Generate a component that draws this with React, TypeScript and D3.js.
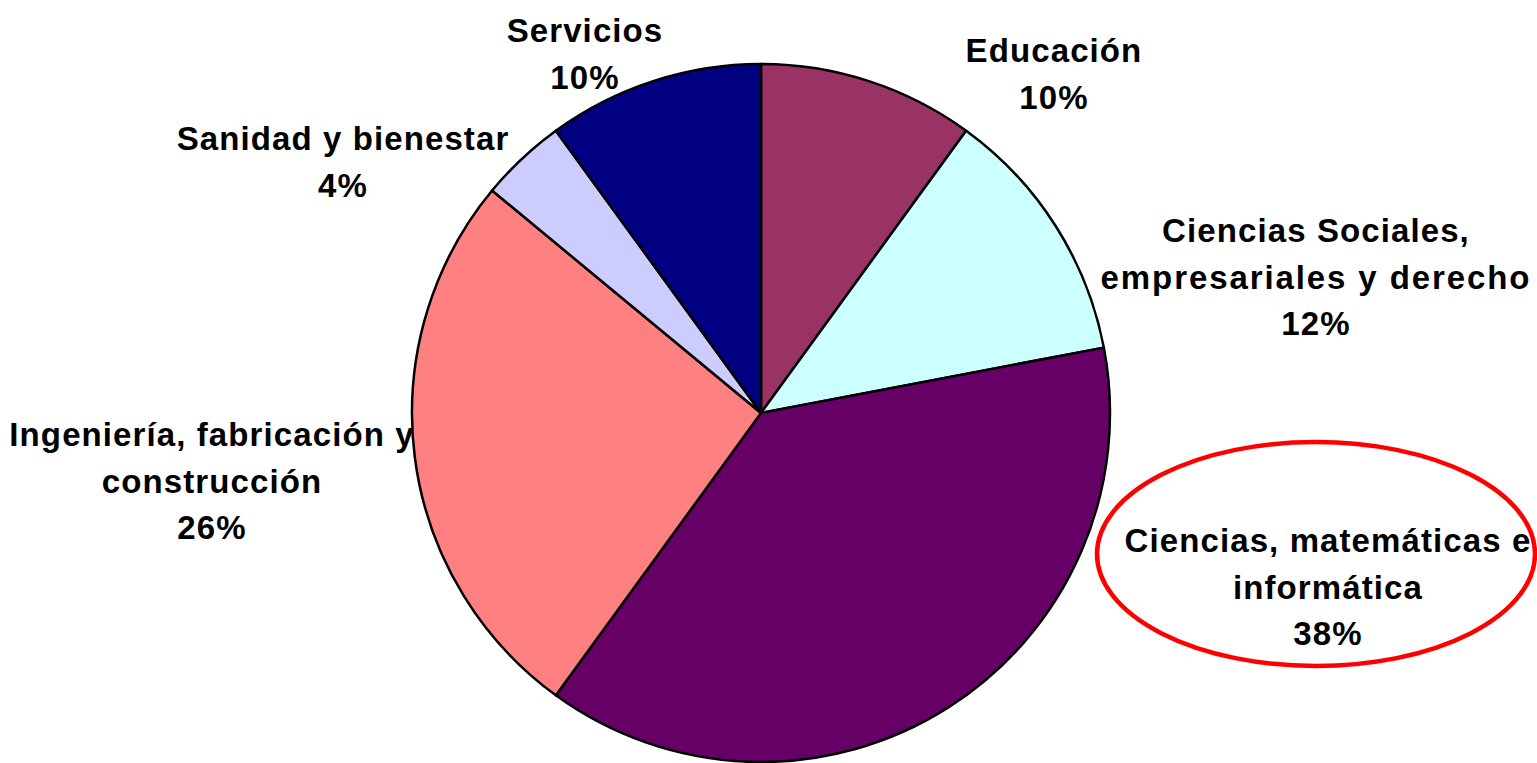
import React, { useEffect, useRef } from "react";
import * as d3 from "d3";

const categories = [
  "Educación",
  "Ciencias Sociales, empresariales y derecho",
  "Ciencias, matemáticas e informática",
  "Ingeniería, fabricación y construcción",
  "Sanidad y bienestar",
  "Servicios",
];
const values = [10, 12, 38, 26, 4, 10];
const colors = ["#993366", "#CCFFFF", "#660066", "#FF8080", "#CCCCFF", "#000080"];
const labelLines = [
  ["Educación", "10%"],
  ["Ciencias Sociales,", "empresariales y derecho", "12%"],
  ["Ciencias, matemáticas e", "informática", "38%"],
  ["Ingeniería, fabricación y", "construcción", "26%"],
  ["Sanidad y bienestar", "4%"],
  ["Servicios", "10%"],
];
// label anchor (center x, first baseline y) — layout
const labelAnchors: [number, number][] = [
  [1054, 62],
  [1316, 242],
  [1328, 552],
  [212, 446],
  [343, 150],
  [585, 42],
];
const highlightIndex = 2;

const W = 1537;
const H = 763;
const CX = 761;
const CY = 413;
const R = 349;
const LINE = 46.5;

export default function App() {
  const ref = useRef<SVGSVGElement | null>(null);
  useEffect(() => {
    document.body.style.margin = "0";
    document.body.style.overflow = "hidden";
    const svg = d3.select(ref.current);
    svg.selectAll("*").remove();
    const pie = d3.pie<number>().sort(null).value((d) => d);
    const arcs = pie(values);
    const arc = d3.arc<d3.PieArcDatum<number>>().innerRadius(0).outerRadius(R);
    const g = svg.append("g").attr("transform", `translate(${CX},${CY})`);
    g.selectAll("path")
      .data(arcs)
      .join("path")
      .attr("d", arc as any)
      .attr("fill", (_, i) => colors[i])
      .attr("stroke", "#000")
      .attr("stroke-width", 2.5)
      .attr("stroke-linejoin", "round");

    const lg = svg.append("g");
    categories.forEach((c, i) => {
      const [x, y] = labelAnchors[i];
      const t = lg
        .append("text")
        .attr("x", x)
        .attr("y", y)
        .attr("text-anchor", "middle")
        .attr("font-family", "'Liberation Sans', Arial, sans-serif")
        .attr("font-weight", "bold")
        .attr("font-size", 33)
        .attr("letter-spacing", 1.1)
        .attr("fill", "#000")
        .attr("data-category", c);
      labelLines[i].forEach((l, j) => {
        t.append("tspan")
          .attr("x", x)
          .attr("y", y + j * LINE)
          .attr("letter-spacing", i === 1 && j === 1 ? 1.9 : null)
          .text(l);
      });
    });

    const [hx, hy] = labelAnchors[highlightIndex];
    svg
      .append("ellipse")
      .attr("cx", hx - 12)
      .attr("cy", hy + 2)
      .attr("rx", 219)
      .attr("ry", 112)
      .attr("fill", "none")
      .attr("stroke", "#FF0000")
      .attr("stroke-width", 4.5);
  }, []);
  return (
    <svg
      ref={ref}
      width={W}
      height={H}
      style={{ display: "block", background: "#fff" }}
    />
  );
}
